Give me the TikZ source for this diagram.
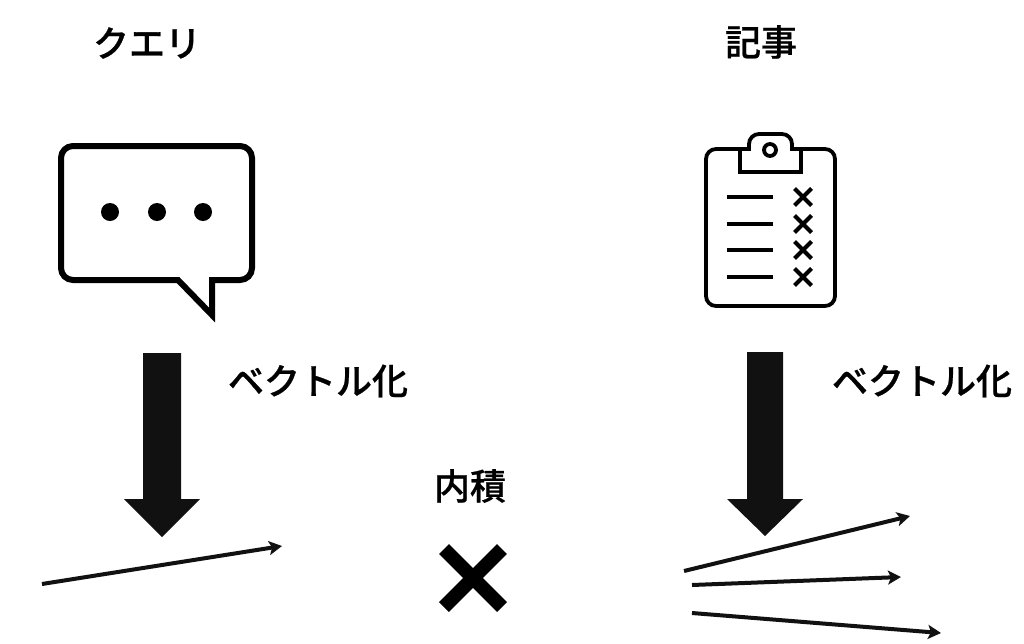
\documentclass[tikz,border=0pt]{standalone}
\usepackage{fontspec}
\newfontfamily\cjk[RawFeature={embolden=0.7}]{Noto Sans CJK JP Medium}
\usetikzlibrary{arrows.meta}
\definecolor{ink}{HTML}{111111}
\tikzset{
  label text/.style={font=\cjk\fontsize{36}{40}\selectfont, text=black, inner sep=0pt, anchor=center},
  big arrow/.style={fill=ink, draw=none},
  thin vec/.style={draw=ink, line width=4pt, -{Stealth[length=13pt,width=14pt,inset=3pt]}},
  icon/.style={draw=black, line join=miter},
  icon dot/.style={fill=black, draw=none},
  mark line/.style={draw=black, line width=4.2pt}
}
\begin{document}
\begin{tikzpicture}[x=1pt,y=-1pt]
\useasboundingbox (0,0) rectangle (1024,643);
\fill[white] (0,0) rectangle (1024,643);
% titles
\node[label text] (query) at (147,43) {クエリ};
\node[label text] (article) at (761,42) {記事};
\node[label text] (vecL) at (318,381) {ベクトル化};
\node[label text] (vecR) at (922,381) {ベクトル化};
\node[label text] (dot) at (470,486) {内積};
% speech bubble
\draw[icon, line width=6pt]
  (178,280) [rounded corners=12pt] -- (61,280) -- (61,146) -- (252,146) -- (252,280) [rounded corners=0pt] -- (212,280) -- (212,315) -- cycle;
\foreach \x in {110,157,203} \fill[icon dot] (\x,212) circle[radius=9];
% clipboard
\draw[icon, line width=3.8pt, rounded corners=10pt]
  (740,149) -- (706,149) -- (706,306) -- (835,306) -- (835,149) -- (801,149);
\draw[icon, line width=3.8pt]
  (740,149) -- (740,172) -- (801,172) -- (801,149);
\draw[icon, line width=3.8pt]
  (740,149) -- (749,149) [rounded corners=10pt] -- (749,134) -- (792,134) [rounded corners=0pt] -- (792,149) -- (801,149);
\draw[icon, line width=3.8pt] (770,150) circle[radius=6];
\foreach \y in {197,224,250,277} {
  \draw[mark line] (794.5,\y-8.5) -- (811.5,\y+8.5);
  \draw[mark line] (811.5,\y-8.5) -- (794.5,\y+8.5);
  \draw[mark line] (727,\y) -- (773,\y);
}
% big arrows
\fill[big arrow] (143,353) -- (181,353) -- (181,499) -- (200,499) -- (162,537) -- (124,499) -- (143,499) -- cycle;
\fill[big arrow] (747,352) -- (783,352) -- (783,499) -- (803,499) -- (765,536) -- (727,499) -- (747,499) -- cycle;
% vectors
\coordinate (qs) at (42,584); \coordinate (qe) at (282,546);
\coordinate (a1s) at (684,571); \coordinate (a1e) at (910,516);
\coordinate (a2s) at (692,585); \coordinate (a2e) at (901,577);
\coordinate (a3s) at (692,613); \coordinate (a3e) at (941,633);
\draw[thin vec] (qs) -- (qe);
\draw[thin vec] (a1s) -- (a1e);
\draw[thin vec] (a2s) -- (a2e);
\draw[thin vec] (a3s) -- (a3e);
% cross
\draw[draw=black, line width=14pt] (444,549) -- (502,607);
\draw[draw=black, line width=14pt] (502,549) -- (444,607);
\end{tikzpicture}
\end{document}
